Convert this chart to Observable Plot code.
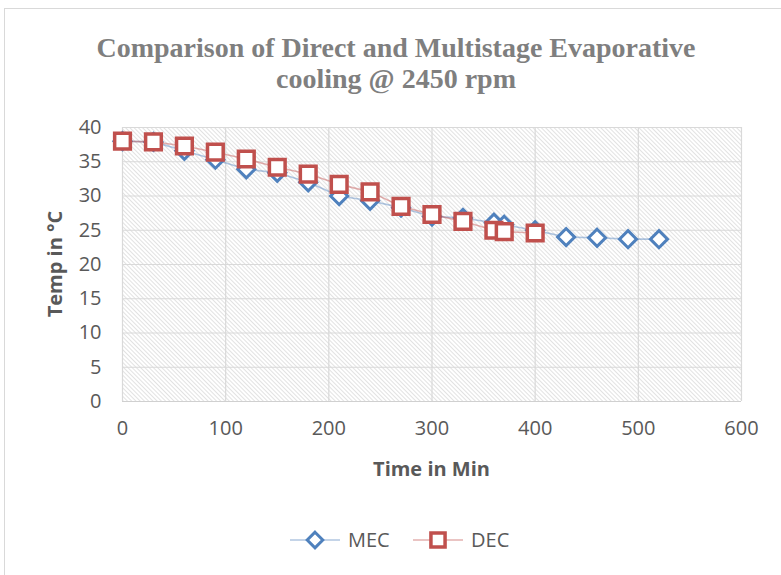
<!DOCTYPE html>
<html>
<head>
<meta charset="utf-8">
<script src="https://cdn.jsdelivr.net/npm/d3@7"></script>
<script src="https://cdn.jsdelivr.net/npm/@observablehq/plot@0.6"></script>
<style>
  html, body { margin: 0; padding: 0; background: #fff; overflow: hidden; }
  #wrap { position: relative; width: 781px; height: 575px; overflow: hidden; }
  #border { position: absolute; left: 4px; top: 8px; width: 820px; height: 620px; border: 1.5px solid #d9d9d9; box-sizing: border-box; }
  #chart { position: absolute; left: 0; top: 0; }
</style>
</head>
<body>
<div id="wrap"><div id="border"></div><div id="chart"></div></div>
<script>
// ---- data ----
const titleLines = ["Comparison of Direct and Multistage Evaporative", "cooling @ 2450 rpm"];
const xLabel = "Time in Min";
const yLabel = "Temp in \u00B0C";
const seriesNames = ["MEC", "DEC"];
const xTicks = [0, 100, 200, 300, 400, 500, 600];
const yTicks = [0, 5, 10, 15, 20, 25, 30, 35, 40];

const mecTime = [0, 30, 60, 90, 120, 150, 180, 210, 240, 270, 300, 330, 360, 370, 400, 430, 460, 490, 520];
const mecTemp = [38.0, 37.9, 36.6, 35.3, 33.9, 33.4, 32.0, 30.0, 29.3, 28.3, 27.0, 26.8, 26.1, 25.8, 25.0, 24.0, 23.9, 23.7, 23.7];
const decTime = [0, 30, 60, 90, 120, 150, 180, 210, 240, 270, 300, 330, 360, 370, 400];
const decTemp = [38.0, 37.9, 37.3, 36.4, 35.4, 34.2, 33.2, 31.7, 30.6, 28.5, 27.3, 26.3, 25.0, 24.8, 24.6];

const mecData = mecTime.map((t, i) => ({t, v: mecTemp[i]}));
const decData = decTime.map((t, i) => ({t, v: decTemp[i]}));

const blue = "#4F81BD", red = "#C0504D", textGray = "#595959";

const W = 781, H = 575;
const mL = 122, mR = 40, mT = 127, mB = 174;

const plot = Plot.plot({
  width: W, height: H,
  marginLeft: mL, marginRight: mR, marginTop: mT, marginBottom: mB,
  x: {domain: [0, 600]},
  y: {domain: [0, 40]},
  style: {fontFamily: "'Open Sans', sans-serif", fontSize: "20px", color: textGray, background: "transparent", overflow: "visible"},
  marks: [
    Plot.frame({fill: "url(#hatch)", stroke: null}),
    Plot.gridX(xTicks, {stroke: "#d9d9d9", strokeOpacity: 1, strokeWidth: 1.2}),
    Plot.gridY(yTicks, {stroke: "#d9d9d9", strokeOpacity: 1, strokeWidth: 1.2}),
    Plot.ruleY([0], {stroke: "#d0d0d0", strokeWidth: 1.2}),
    Plot.axisX(xTicks, {tickSize: 0, tickPadding: 19, label: null, tickFormat: d => String(d)}),
    Plot.axisY(yTicks, {tickSize: 0, tickPadding: 21, label: null, tickFormat: d => String(d)}),
    Plot.line(mecData, {x: "t", y: "v", stroke: blue, strokeOpacity: 0.45, strokeWidth: 1.6}),
    Plot.dot(mecData, {x: "t", y: "v", symbol: "diamond2", r: 7.7, stroke: blue, strokeWidth: 3, fill: "white"}),
    Plot.line(decData, {x: "t", y: "v", stroke: red, strokeOpacity: 0.45, strokeWidth: 1.6}),
    Plot.dot(decData, {x: "t", y: "v", symbol: "square2", r: 10, stroke: red, strokeWidth: 3.5, fill: "white"})
  ]
});

const svg = d3.select(plot);
const defs = svg.insert("defs", ":first-child");
const pat = defs.append("pattern").attr("id", "hatch").attr("patternUnits", "userSpaceOnUse")
  .attr("width", 3).attr("height", 3).attr("patternTransform", "rotate(-45)");
pat.append("rect").attr("width", 3).attr("height", 3).attr("fill", "#ffffff");
pat.append("line").attr("x1", 1.5).attr("y1", 0).attr("x2", 1.5).attr("y2", 3).attr("stroke", "#e2e2e2").attr("stroke-width", 1);

// title
const title = svg.append("text").attr("text-anchor", "middle")
  .attr("font-family", "'Liberation Serif', 'Times New Roman', serif").attr("font-weight", "bold")
  .attr("font-size", 28).attr("fill", "#7f7f7f");
titleLines.forEach((l, i) => title.append("tspan").attr("x", 396).attr("y", 57 + i * 31).text(l));

// axis titles
const cx = (mL + (W - mR)) / 2, cy = (mT + (H - mB)) / 2;
svg.append("text").attr("x", cx).attr("y", 476).attr("text-anchor", "middle")
  .attr("font-weight", "bold").attr("font-size", 20).attr("fill", textGray).text(xLabel);
svg.append("text").attr("transform", `translate(62,${cy}) rotate(-90)`).attr("text-anchor", "middle")
  .attr("font-weight", "bold").attr("font-size", 20).attr("fill", textGray).text(yLabel);

// legend
const lg = svg.append("g");
const legendY = 540;
const items = [
  {name: seriesNames[0], color: blue, sym: d3.symbolDiamond2, size: Math.PI * 7 * 7, sw: 3, x0: 290},
  {name: seriesNames[1], color: red, sym: d3.symbolSquare2, size: Math.PI * 9 * 9, sw: 3.5, x0: 413}
];
items.forEach(it => {
  lg.append("line").attr("x1", it.x0).attr("x2", it.x0 + 50).attr("y1", legendY).attr("y2", legendY)
    .attr("stroke", it.color).attr("stroke-opacity", 0.45).attr("stroke-width", 1.6);
  lg.append("path").attr("d", d3.symbol(it.sym, it.size)()).attr("transform", `translate(${it.x0 + 25},${legendY})`)
    .attr("fill", "white").attr("stroke", it.color).attr("stroke-width", it.sw);
  lg.append("text").attr("x", it.x0 + 58).attr("y", legendY).attr("dy", "0.35em").attr("text-anchor", "start")
    .attr("font-size", 20).attr("fill", textGray).text(it.name);
});

document.getElementById("chart").appendChild(plot);
</script>
</body>
</html>
